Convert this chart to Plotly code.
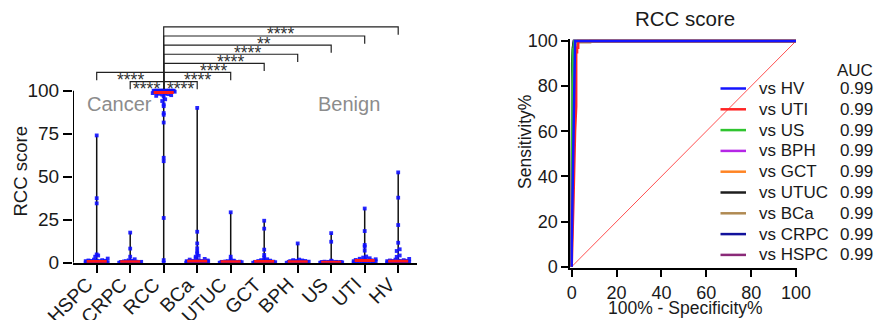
import numpy as np
import plotly.graph_objects as go

# ---------------- data ----------------
categories = ["HSPC", "CRPC", "RCC", "BCa", "UTUC", "GCT", "BPH", "US", "UTI", "HV"]

hspc = [74.0, 37.5, 34.5, 4.8, 4.2, 3.5, 2.4, 1.8, 1.5, 1.3, 1.2, 1.1, 1.0, 0.9, 0.9, 0.8, 0.7,
        0.7, 0.6, 0.6, 0.5, 0.5, 0.5, 0.4, 0.4, 0.3, 0.3, 0.3, 0.2, 0.2, 0.1, 0.1, 0.0, 0.0]
crpc = [17.5, 8.2, 3.5, 2.0, 1.4, 1.1, 0.9, 0.8, 0.7, 0.6, 0.5, 0.5, 0.4, 0.4, 0.3, 0.3,
        0.2, 0.2, 0.1, 0.1, 0.0, 0.0]
rcc = [100.0, 100.0, 100.0, 100.0, 100.0, 100.0, 100.0, 100.0, 100.0, 100.0, 100.0, 100.0,
       100.0, 100.0, 99.8, 99.7, 99.6, 99.5, 99.4, 99.3, 99.2, 99.0, 98.8, 98.6, 98.4, 98.2,
       98.0, 97.7, 97.4, 97.0, 96.6, 95.0, 94.0, 92.0, 91.0, 87.0, 86.0, 81.5, 61.0, 59.0,
       26.0, 1.5, 0.0]
bca = [90.0, 18.0, 11.2, 8.4, 6.4, 5.4, 4.0, 3.5, 2.6, 2.2, 1.8, 1.5, 1.3, 1.1, 1.0, 0.9, 0.8,
       0.8, 0.7, 0.6, 0.6, 0.5, 0.5, 0.4, 0.4, 0.3, 0.3, 0.2, 0.2, 0.1, 0.1, 0.0, 0.0]
utuc = [29.3, 3.5, 1.8, 1.2, 0.9, 0.8, 0.7, 0.6, 0.5, 0.5, 0.4, 0.4, 0.3, 0.3, 0.2, 0.2, 0.1, 0.0]
gct = [24.4, 19.8, 7.6, 4.5, 3.0, 2.0, 1.5, 1.2, 1.0, 0.9, 0.8, 0.7, 0.6, 0.5, 0.5, 0.4, 0.4,
       0.3, 0.3, 0.2, 0.2, 0.1, 0.0]
bph = [11.2, 1.8, 1.5, 1.3, 1.1, 1.0, 0.9, 0.8, 0.7, 0.6, 0.5, 0.5, 0.4, 0.4, 0.3, 0.3, 0.2, 0.1, 0.0]
us = [17.2, 12.2, 1.2, 0.8, 0.6, 0.5, 0.5, 0.4, 0.4, 0.3, 0.3, 0.3, 0.2, 0.2, 0.2, 0.1, 0.1, 0.0, 0.0]
uti = [31.5, 18.4, 10.3, 9.3, 7.0, 3.6, 3.0, 2.6, 2.3, 2.0, 1.8, 1.6, 1.4, 1.3, 1.2, 1.1, 1.0,
       1.0, 0.9, 0.8, 0.8, 0.7, 0.6, 0.5, 0.4, 0.3, 0.2, 0.1]
hv = [52.5, 37.8, 21.9, 11.6, 7.8, 6.8, 4.2, 3.4, 2.2, 1.8, 1.5, 1.3, 1.2, 1.1, 1.0, 0.9, 0.9,
      0.8, 0.7, 0.7, 0.6, 0.6, 0.5, 0.5, 0.4, 0.4, 0.3, 0.3, 0.2, 0.2, 0.1, 0.0]
group_values = [hspc, crpc, rcc, bca, utuc, gct, bph, us, uti, hv]

comparison_pairs = [("CRPC", "RCC"), ("RCC", "BCa"), ("HSPC", "RCC"), ("RCC", "UTUC"),
                    ("RCC", "GCT"), ("RCC", "BPH"), ("RCC", "US"), ("RCC", "UTI"), ("RCC", "HV")]
comparison_labels = ["****", "****", "****", "****", "****", "****", "****", "**", "****"]
bracket_levels = [0, 0, 1, 1, 2, 3, 4, 5, 6]

y_ticks_left = [0, 25, 50, 75, 100]
x_ticks_right = [0, 20, 40, 60, 80, 100]

roc_names = ["vs HV", "vs UTI", "vs US", "vs BPH", "vs GCT", "vs UTUC", "vs BCa", "vs CRPC", "vs HSPC"]
roc_auc = ["0.99", "0.99", "0.99", "0.99", "0.99", "0.99", "0.99", "0.99", "0.99"]
roc_fpr = [
    [0, 0, 0.5, 1.0, 1.3, 1.5, 100],
    [0, 0.3, 0.8, 1.5, 2.0, 2.0, 2.4, 2.4, 2.9, 2.9, 100],
    [0, 0, 0.3, 0.5, 0.8, 1.2, 100],
    [0, 0, 0.4, 0.8, 1.2, 100],
    [0, 0, 0.4, 0.9, 1.4, 100],
    [0, 0, 0.2, 0.5, 1.0, 100],
    [0, 0, 0.5, 1.0, 2.0, 3.0, 8.2, 8.2, 100],
    [0, 0, 0.3, 0.7, 1.0, 100],
    [0, 0, 0.3, 0.8, 1.1, 100],
]
roc_tpr = [
    [0, 10, 40, 80, 95, 100, 100],
    [0, 8, 30, 60, 71, 95, 95, 97, 97, 100, 100],
    [0, 20, 70, 96, 97, 100, 100],
    [0, 30, 80, 96, 100, 100],
    [0, 30, 75, 95, 100, 100],
    [0, 50, 90, 97, 100, 100],
    [0, 30, 80, 95, 98, 99.4, 99.4, 100, 100],
    [0, 40, 85, 97, 100, 100],
    [0, 35, 80, 96, 100, 100],
]
roc_colors = ["#1414ff", "#ff2424", "#2fc42f", "#b526e6", "#ff8424", "#1e1e1e",
              "#b08a52", "#12129c", "#8a2a78"]

# ---------------- geometry helpers ----------------
W, H = 876, 320
FONT = "Liberation Sans, Arial, sans-serif"
TXT = "#1a1a1a"

PX_PER_CAT = 33.5
PX_PER_UNIT = 1.72
X0_PX = 96.7            # px of first category
Y0_PX = 262.7           # px of value 0 (left)
xl_range = [(73.0 - X0_PX) / PX_PER_CAT, (416.7 - X0_PX) / PX_PER_CAT]
yl_range = [0, 142]
left_dom_x = [73.0 / W, 416.7 / W]
left_dom_y = [1 - Y0_PX / H, 1 - (Y0_PX - yl_range[1] * PX_PER_UNIT) / H]

RX0, RX100, RY0, RY100 = 571.7, 796.0, 266.7, 41.0
rpx_x = (RX100 - RX0) / 100
rpx_y = (RY0 - RY100) / 100
xr_range = [-0.6, 100.6]
yr_range = [-0.6, 100.8]
right_dom_x = [(RX0 + xr_range[0] * rpx_x) / W, (RX0 + xr_range[1] * rpx_x) / W]
right_dom_y = [1 - (RY0 - yr_range[0] * rpx_y) / H, 1 - (RY0 - yr_range[1] * rpx_y) / H]


def px_x(px):
    return px / W


def px_y(py):
    return 1 - py / H


def swarm_offsets(vals, row_px=3.0, dot_px=3.0, cap_px=11.0):
    vals = np.asarray(vals, float)
    bins = np.round(vals * PX_PER_UNIT / row_px).astype(int)
    offs = np.zeros(len(vals))
    for b in np.unique(bins):
        idx = np.where(bins == b)[0]
        idx = idx[np.argsort(vals[idx], kind="stable")]
        n = len(idx)
        if n == 1:
            continue
        hw = min(cap_px, (n - 1) * dot_px / 2)
        pos = np.linspace(-hw, hw, n)
        perm = np.argsort((np.arange(n) * 0.6180339) % 1.0, kind="stable")
        offs[idx] = pos[perm]
    return offs / PX_PER_CAT


fig = go.Figure()

# ---------------- left: scatter dot plot ----------------
for i, vals in enumerate(group_values):
    fig.add_trace(go.Scatter(x=[i, i], y=[min(vals), max(vals)], mode="lines",
                             line=dict(color="#111111", width=1.5), xaxis="x", yaxis="y",
                             showlegend=False, hoverinfo="skip"))
for i, vals in enumerate(group_values):
    offs = swarm_offsets(vals)
    fig.add_trace(go.Scatter(x=i + offs, y=vals, mode="markers",
                             marker=dict(color="#1010ff", size=3.8, symbol="square",
                                         opacity=0.9, line=dict(width=0)),
                             cliponaxis=False, xaxis="x", yaxis="y", showlegend=False))
for i, vals in enumerate(group_values):
    med = float(np.median(vals))
    fig.add_trace(go.Scatter(x=[i - 0.3, i + 0.3], y=[med, med], mode="lines",
                             line=dict(color="#ff1a1a", width=3), cliponaxis=False,
                             xaxis="x", yaxis="y", showlegend=False, hoverinfo="skip"))

shapes = []
annotations = []

# y axis line of left plot, only from 0 to 100
shapes.append(dict(type="line", xref="x", yref="y", x0=xl_range[0], x1=xl_range[0],
                   y0=0, y1=100, line=dict(color="black", width=2)))

# category labels (rotated), end of text at the tick
for i, cat in enumerate(categories):
    annotations.append(dict(x=i + 0.09, y=px_y(270.5), xref="x", yref="paper", text=cat,
                            showarrow=False, textangle=-45, xanchor="right", yanchor="top",
                            font=dict(family=FONT, size=19.5, color=TXT)))

# significance brackets
BASE, STEP, LEG = 105.3, 5.3, 4.5
for (a, b), lab, lev in zip(comparison_pairs, comparison_labels, bracket_levels):
    ia, ib = categories.index(a), categories.index(b)
    ytop = BASE + STEP * lev
    ya = 101.0 if a == "RCC" else ytop - LEG
    yb = 101.0 if b == "RCC" else ytop - LEG
    shapes.append(dict(type="path", xref="x", yref="y",
                       path=f"M {ia},{ya} L {ia},{ytop} L {ib},{ytop} L {ib},{yb}",
                       line=dict(color="#222222", width=1.2)))
    annotations.append(dict(x=(ia + ib) / 2, y=ytop - 4.4, xref="x", yref="y", text=lab,
                            showarrow=False, xanchor="center", yanchor="middle",
                            font=dict(family=FONT, size=17.5, color="#333333")))

annotations += [
    dict(x=px_x(119), y=px_y(103.5), xref="paper", yref="paper", text="Cancer", showarrow=False,
         xanchor="center", yanchor="middle", font=dict(family=FONT, size=20, color="#8c8c8c")),
    dict(x=px_x(349), y=px_y(103.5), xref="paper", yref="paper", text="Benign", showarrow=False,
         xanchor="center", yanchor="middle", font=dict(family=FONT, size=20, color="#8c8c8c")),
    dict(x=px_x(19.5), y=px_y(172), xref="paper", yref="paper", text="RCC score", showarrow=False,
         textangle=-90, xanchor="center", yanchor="middle",
         font=dict(family=FONT, size=18.5, color=TXT)),
]

# ---------------- right: ROC ----------------
fig.add_trace(go.Scatter(x=[0, 100], y=[0, 100], mode="lines",
                         line=dict(color="#ff5050", width=1), xaxis="x2", yaxis="y2",
                         showlegend=False, hoverinfo="skip"))
for k in reversed(range(len(roc_names))):
    fig.add_trace(go.Scatter(x=roc_fpr[k], y=roc_tpr[k], mode="lines", name=roc_names[k],
                             line=dict(color=roc_colors[k], width=2.5), xaxis="x2", yaxis="y2",
                             showlegend=False))

annotations += [
    dict(x=px_x(685), y=px_y(18.5), xref="paper", yref="paper", text="RCC score", showarrow=False,
         xanchor="center", yanchor="middle", font=dict(family=FONT, size=20.5, color=TXT)),
    dict(x=px_x(525), y=px_y(142), xref="paper", yref="paper", text="Sensitivity%",
         showarrow=False, textangle=-90, xanchor="center", yanchor="middle",
         font=dict(family=FONT, size=17.5, color=TXT)),
    dict(x=px_x(685), y=px_y(308), xref="paper", yref="paper", text="100% - Specificity%",
         showarrow=False, xanchor="center", yanchor="middle",
         font=dict(family=FONT, size=17.5, color=TXT)),
    dict(x=px_x(875), y=px_y(70), xref="paper", yref="paper", text="AUC", showarrow=False,
         xanchor="right", yanchor="middle", font=dict(family=FONT, size=17, color=TXT)),
]
ROW0, ROWSTEP = 88.5, 20.8
for k, (nm, auc) in enumerate(zip(roc_names, roc_auc)):
    yy = ROW0 + ROWSTEP * k
    shapes.append(dict(type="line", xref="paper", yref="paper", x0=px_x(720.5), x1=px_x(746),
                       y0=px_y(yy), y1=px_y(yy), line=dict(color=roc_colors[k], width=2.5)))
    annotations.append(dict(x=px_x(757), y=px_y(yy), xref="paper", yref="paper", text=nm,
                            showarrow=False, xanchor="left", yanchor="middle",
                            font=dict(family=FONT, size=17, color=TXT)))
    annotations.append(dict(x=px_x(875), y=px_y(yy), xref="paper", yref="paper", text=auc,
                            showarrow=False, xanchor="right", yanchor="middle",
                            font=dict(family=FONT, size=17, color=TXT)))

fig.update_layout(
    width=W, height=H, margin=dict(l=0, r=0, t=0, b=0, autoexpand=False),
    paper_bgcolor="white", plot_bgcolor="white", showlegend=False,
    font=dict(family=FONT, color=TXT),
    xaxis=dict(domain=left_dom_x, range=xl_range, tickvals=list(range(len(categories))),
               showticklabels=False, ticks="outside", ticklen=8, tickwidth=2,
               tickcolor="black", showline=True, linewidth=2, linecolor="black",
               showgrid=False, zeroline=False, anchor="y", automargin=False),
    yaxis=dict(domain=left_dom_y, range=yl_range, tickvals=y_ticks_left, ticks="outside",
               ticklen=9, tickwidth=2, tickcolor="black", showline=False, showgrid=False,
               zeroline=False, tickfont=dict(family=FONT, size=19, color=TXT), anchor="x",
               automargin=False),
    xaxis2=dict(domain=right_dom_x, range=xr_range, tickvals=x_ticks_right, ticks="outside",
                ticklen=7, tickwidth=2, tickcolor="black", showline=True, linewidth=2,
                linecolor="black", showgrid=False, zeroline=False,
                tickfont=dict(family=FONT, size=18, color=TXT), anchor="y2", automargin=False),
    yaxis2=dict(domain=right_dom_y, range=yr_range, tickvals=x_ticks_right, ticks="outside",
                ticklen=7, tickwidth=2, tickcolor="black", showline=True, linewidth=2,
                linecolor="black", showgrid=False, zeroline=False,
                tickfont=dict(family=FONT, size=18, color=TXT), anchor="x2", automargin=False),
    shapes=shapes, annotations=annotations,
)

fig.write_html("out.html", config={"displayModeBar": False},
               post_script="document.body.style.margin='0';document.body.style.overflow='hidden';")
